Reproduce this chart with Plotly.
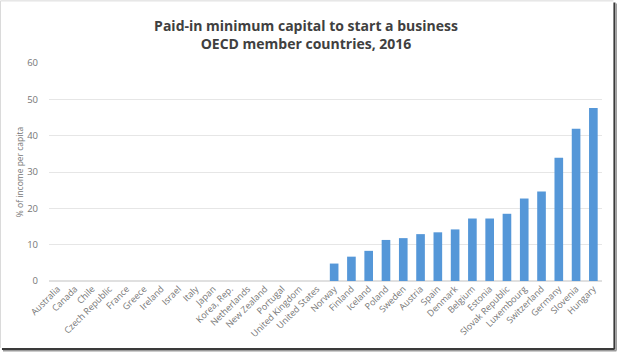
import plotly.graph_objects as go

countries = ["Australia", "Canada", "Chile", "Czech Republic", "France", "Greece",
             "Ireland", "Israel", "Italy", "Japan", "Korea, Rep.", "Netherlands",
             "New Zealand", "Portugal", "United Kingdom", "United States",
             "Norway", "Finland", "Iceland", "Poland", "Sweden", "Austria", "Spain",
             "Denmark", "Belgium", "Estonia", "Slovak Republic", "Luxembourg",
             "Switzerland", "Germany", "Slovenia", "Hungary"]
values = [0, 0, 0, 0, 0, 0, 0, 0, 0, 0, 0, 0, 0, 0, 0, 0,
          4.8, 6.7, 8.3, 11.3, 11.8, 12.9, 13.4, 14.2, 17.2, 17.2, 18.5, 22.7,
          24.6, 33.9, 41.9, 47.6]
y_ticks = [0, 10, 20, 30, 40, 50, 60]

W, H = 618, 352
L, R, T, B = 49, 16.4, 62.7, 71
pw, ph = W - L - R, H - T - B

def px(x):
    return (x - L) / pw

def py(y):
    return (H - B - y) / ph

fig = go.Figure(go.Bar(
    x=countries, y=values,
    marker=dict(color="#5597d8", line=dict(width=0)),
    width=0.5,
))

shapes = [
    dict(type="line", xref="paper", yref="paper", x0=px(0.5), x1=px(613), y0=py(0.5), y1=py(0.5),
         line=dict(color="#d9d9d9", width=1)),
    dict(type="line", xref="paper", yref="paper", x0=px(0.5), x1=px(0.5), y0=py(0.5), y1=py(348),
         line=dict(color="#d9d9d9", width=1)),
    dict(type="line", xref="paper", yref="paper", x0=px(614), x1=px(614), y0=py(2), y1=py(349.5),
         line=dict(color="#3a3a3a", width=2)),
    dict(type="line", xref="paper", yref="paper", x0=px(615.8), x1=px(615.8), y0=py(3), y1=py(350.5),
         line=dict(color="#9a9a9a", width=1.5)),
    dict(type="line", xref="paper", yref="paper", x0=px(2), x1=px(614), y0=py(349), y1=py(349),
         line=dict(color="#3a3a3a", width=2)),
    dict(type="line", xref="paper", yref="paper", x0=px(3), x1=px(616), y0=py(350.8), y1=py(350.8),
         line=dict(color="#9a9a9a", width=1.5)),
]

fig.update_layout(
    width=W, height=H,
    margin=dict(l=L, r=R, t=T, b=B),
    paper_bgcolor="white", plot_bgcolor="white",
    font=dict(family="Open Sans", color="#767676"),
    title=dict(
        text="<b>Paid-in minimum capital to start a business<br>OECD member countries, 2016</b>",
        x=306 / W, xref="container", xanchor="center", y=1 - 31 / H, yanchor="middle",
        font=dict(family="Open Sans", size=14, color="#404040"),
    ),
    xaxis=dict(
        tickangle=-45, tickfont=dict(size=9, color="#767676"),
        showgrid=False, showline=False, ticks="", automargin=False,
    ),
    yaxis=dict(
        range=[0, 60], tickvals=y_ticks, tickfont=dict(size=9.5, color="#767676"),
        gridcolor="#e6e6e6", gridwidth=1, zeroline=True, zerolinecolor="#e0e0e0",
        ticks="", ticklabelstandoff=10, automargin=False,
        title=dict(text="% of income per capita", font=dict(size=8.5, color="#767676"), standoff=2),
    ),
    shapes=shapes,
    showlegend=False,
)

fig.write_html("out.html")
